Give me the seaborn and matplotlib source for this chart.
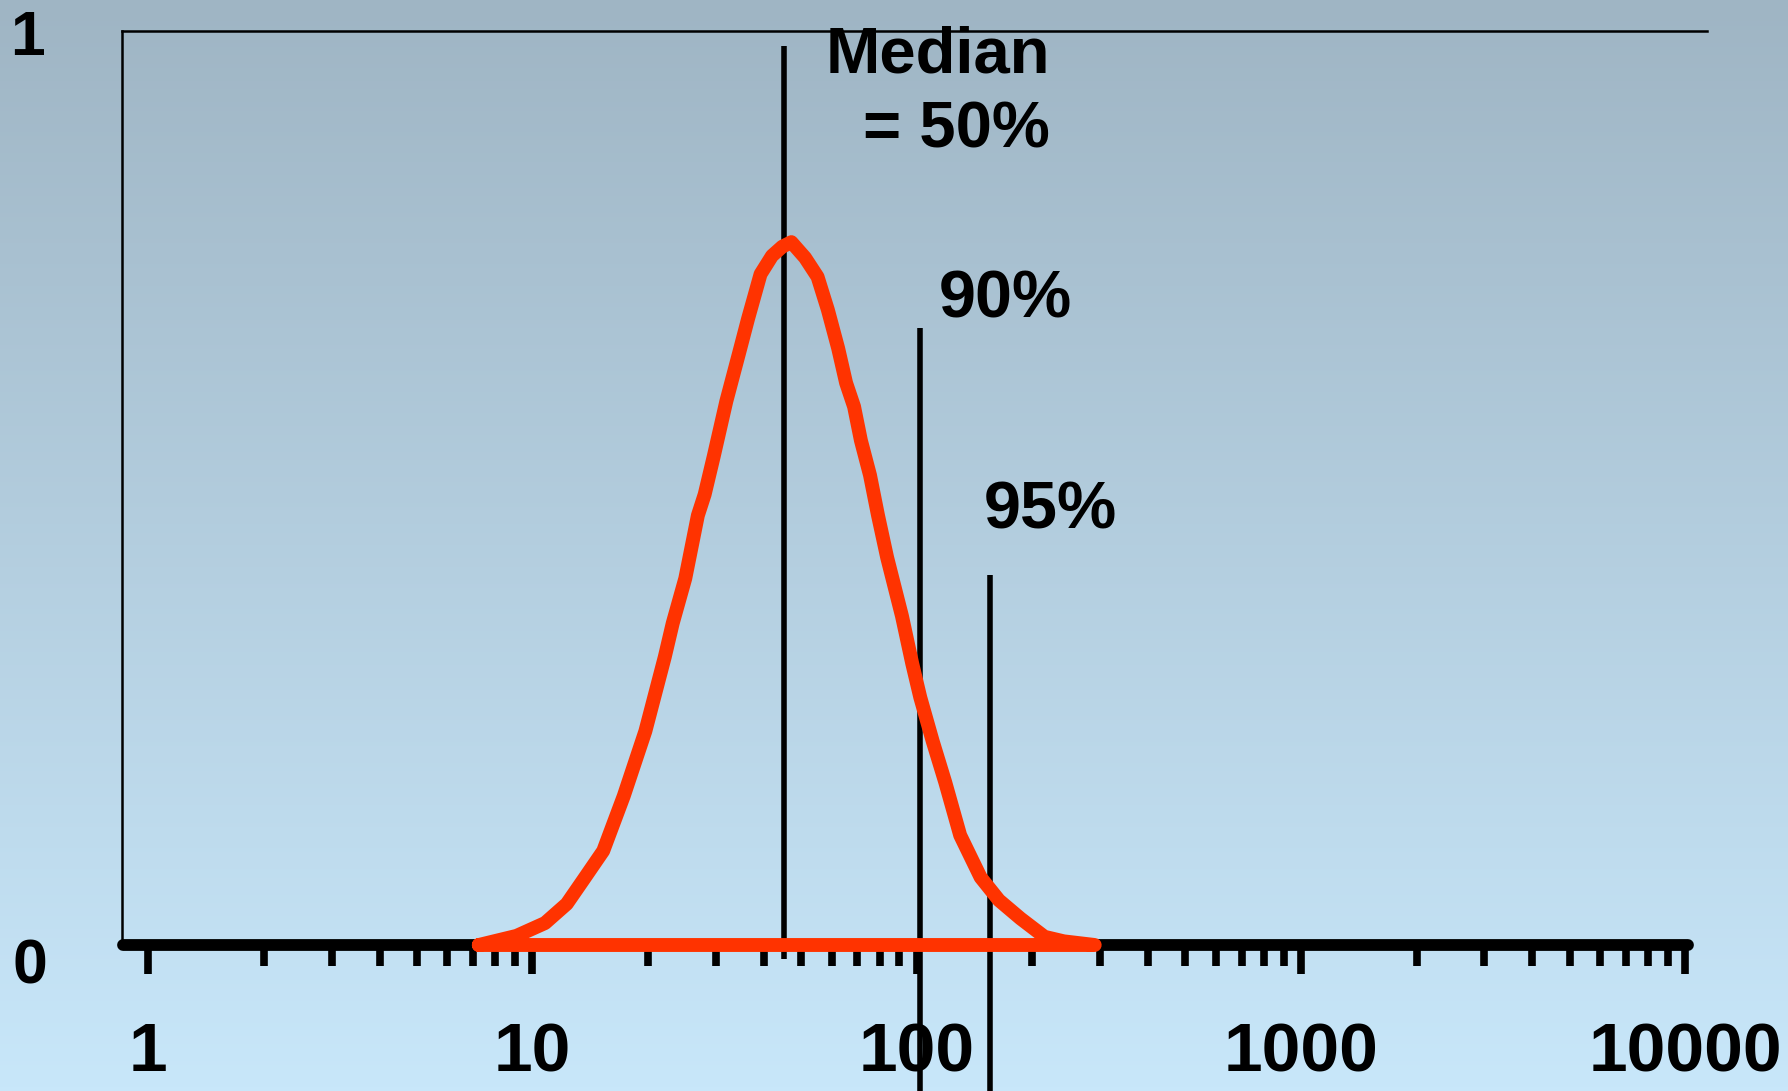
import numpy as np
import pandas as pd
import matplotlib
matplotlib.use("Agg")
import matplotlib.pyplot as plt
import seaborn as sns
from matplotlib.colors import LinearSegmentedColormap
from matplotlib.ticker import FixedLocator, FixedFormatter, NullFormatter

# distribution curve (x on a log scale, y relative 0..1)
size_x = [7.25, 9.09, 10.78, 12.28, 13.60, 15.28, 17.28, 19.67, 22.09, 23.17,
          24.98, 26.94, 28.06, 29.64, 31.95, 34.45, 36.38, 39.22, 42.01, 44.67,
          47.17, 51.20, 55.19, 58.69, 62.42, 65.47, 68.68, 71.55, 75.56, 79.27,
          83.72, 91.49, 97.30, 102.1, 110.0, 118.6, 129.7, 146.6, 163.6, 186.2,
          214.9, 241.4, 290.4]
freq_y = [0.0, 0.010, 0.024, 0.045, 0.072, 0.103, 0.163, 0.234, 0.315, 0.352,
          0.401, 0.470, 0.493, 0.535, 0.595, 0.647, 0.685, 0.734, 0.754, 0.764,
          0.769, 0.752, 0.731, 0.695, 0.653, 0.615, 0.589, 0.552, 0.514, 0.470,
          0.424, 0.360, 0.308, 0.271, 0.223, 0.178, 0.120, 0.074, 0.049, 0.029,
          0.009, 0.004, 0.0]

decades = [1, 10, 100, 1000, 10000]
decade_labels = ["1", "10", "100", "1000", "10000"]

percentile_x = [45, 102, 155]
percentile_top = [0.984, 0.675, 0.405]
percentile_bottom = [-0.015, -0.2, -0.2]

# closed outline: curve plus the baseline back to the start
curve = pd.DataFrame({"size": size_x + [size_x[0]], "freq": freq_y + [freq_y[0]]})

sns.set_theme(style="white")
plt.rcParams["font.family"] = ["Liberation Sans", "DejaVu Sans"]
plt.rcParams["font.weight"] = "bold"
plt.rcParams["text.color"] = "black"
plt.rcParams["xtick.color"] = "black"
plt.rcParams["xtick.labelcolor"] = "black"

fig = plt.figure(figsize=(17.88, 10.91), dpi=100)

# background gradient
bg = fig.add_axes([0, 0, 1, 1], zorder=-10)
grad = np.linspace(0, 1, 256).reshape(-1, 1)
cmap = LinearSegmentedColormap.from_list("bg", ["#9FB5C4", "#C8E7FA"])
bg.imshow(grad, aspect="auto", cmap=cmap, extent=[0, 1, 0, 1], origin="upper")
bg.axis("off")

ax = fig.add_axes([122 / 1788, 1 - 945 / 1091, (1707 - 122) / 1788, (945 - 31) / 1091])
ax.patch.set_alpha(0)
ax.set_xscale("log")
ax.set_xlim(0.855, 11380)
ax.set_ylim(0, 1)

sns.lineplot(data=curve, x="size", y="freq", sort=False, estimator=None, ax=ax,
             color="#FF3300", zorder=4, linewidth=10)
for ln in ax.lines:
    ln.set_linewidth(10)
    ln.set_solid_joinstyle("round")
    ln.set_solid_capstyle("round")
    ln.set_clip_on(False)

ax.vlines(percentile_x, percentile_bottom, percentile_top, colors="black",
          linewidth=4, clip_on=False, zorder=3)

ax.text(222, 0.955, "Median", ha="right", va="baseline", fontsize=47,
        fontweight="bold", color="black", zorder=5)
ax.text(222, 0.872, "= 50%", ha="right", va="baseline", fontsize=47,
        fontweight="bold", color="black")
ax.text(169.6, 0.687, "90%", ha="center", va="baseline", fontsize=48,
        fontweight="bold", color="black")
ax.text(223.3, 0.456, "95%", ha="center", va="baseline", fontsize=48,
        fontweight="bold", color="black")

# spines
for side in ["top", "left"]:
    ax.spines[side].set_color("black")
    ax.spines[side].set_linewidth(1.8)
ax.spines["right"].set_visible(False)
ax.spines["bottom"].set_linewidth(8.5)
ax.spines["bottom"].set_color("black")
ax.spines["bottom"].set_bounds(0.86, 10150)
ax.spines["bottom"].set_capstyle("round")

minor_ticks = [d * s for d in decades[:-1] for s in range(2, 10)]
ax.xaxis.set_major_locator(FixedLocator(decades))
ax.xaxis.set_major_formatter(FixedFormatter(decade_labels))
ax.xaxis.set_minor_locator(FixedLocator(minor_ticks))
ax.xaxis.set_minor_formatter(NullFormatter())
ax.tick_params(axis="x", which="major", direction="out", length=21, width=5.5,
               color="black", pad=34, labelsize=50, bottom=True, labelcolor="black")
ax.tick_params(axis="x", which="minor", direction="out", length=15, width=5.5,
               color="black", bottom=True)
for lab in ax.get_xticklabels():
    lab.set_fontweight("bold")
ax.set_yticks([])
ax.set_xlabel("")
ax.set_ylabel("")

# y-axis end labels
fig.text(27 / 1788, 1 - 55 / 1091, "1", ha="center", va="baseline", fontsize=45,
         fontweight="bold", color="black")
fig.text(30 / 1788, 1 - 983 / 1091, "0", ha="center", va="baseline", fontsize=45,
         fontweight="bold", color="black")

fig.savefig("out.png", dpi=100)
